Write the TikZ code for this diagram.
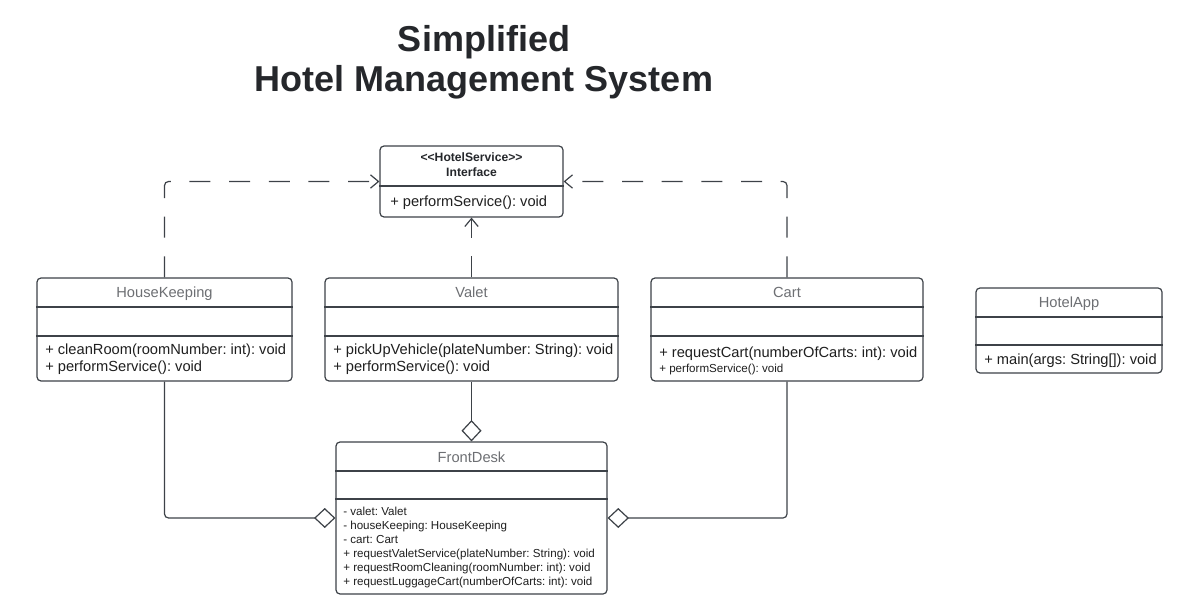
\documentclass[tikz,border=0pt]{standalone}
\usepackage{fontspec}
\setmainfont{Liberation Sans}
\usetikzlibrary{arrows.meta,fit}
\definecolor{linecol}{HTML}{3D4248}
\definecolor{titlecol}{HTML}{25272B}
\definecolor{txtcol}{HTML}{1F1F1F}
\definecolor{namecol}{HTML}{6D6F73}
\frenchspacing
\begin{document}
\begin{tikzpicture}[x=0.75pt,y=-0.75pt,
  umlbox/.style={draw=linecol,line width=0.9pt,rounded corners=3pt,inner sep=0pt,fill=white},
  divider/.style={draw=linecol,line width=0.9pt},
  cname/.style={text=namecol,font=\fontsize{11pt}{13pt}\selectfont,inner sep=0pt,text height=0.72em,text depth=0.2em,yshift=-1.3pt},
  member/.style={text=txtcol,font=\fontsize{11pt}{13pt}\selectfont,anchor=west,inner sep=0pt,text height=0.72em,text depth=0.2em,yshift=-1.3pt},
  smallmember/.style={text=txtcol,font=\fontsize{8.7pt}{10pt}\selectfont,anchor=west,inner sep=0pt,text height=0.72em,text depth=0.2em,yshift=-1pt},
  stereo/.style={text=titlecol,font=\bfseries\fontsize{9.1pt}{11pt}\selectfont,inner sep=0pt,text height=0.72em,text depth=0.2em,yshift=-1pt},
  realize/.style={draw=linecol,line width=0.9pt,dash pattern=on 15.75pt off 14pt,rounded corners=3pt,
    -{Straight Barb[length=6pt,width=10pt,line width=0.9pt]}},
  aggr/.style={draw=linecol,line width=0.9pt,rounded corners=3pt,
    {Diamond[open,length=16pt,width=15pt,line width=0.9pt,fill=white]}-}
]
\useasboundingbox (0,0) rectangle (1185,606);

% Title
\node[text=titlecol,font=\bfseries\fontsize{27pt}{30pt}\selectfont,align=center] (title) at (484,62)
  {Simplified\\Hotel Management System};

% HotelService interface
\node[umlbox,fit={(380,146) (563,217)}] (hs) {};
\draw[divider] (hs.west |- 0,186) -- (hs.east |- 0,186);
\node[stereo] (hsst) at (471.5,157) {<{}<HotelService>{}>};
\node[stereo] (hsif) at (471.5,172) {Interface};
\node[member] (hsm1) at (390,201) {+ performService(): void};

% HouseKeeping
\node[umlbox,fit={(37,278) (292,381)}] (hk) {};
\draw[divider] (hk.west |- 0,307) -- (hk.east |- 0,307);
\draw[divider] (hk.west |- 0,336) -- (hk.east |- 0,336);
\node[cname] (hkn) at (164.5,292) {HouseKeeping};
\node[member] (hkm1) at (45,349) {+ cleanRoom(roomNumber: int): void};
\node[member] (hkm2) at (45,366) {+ performService(): void};

% Valet
\node[umlbox,fit={(325,278) (618,381)}] (va) {};
\draw[divider] (va.west |- 0,307) -- (va.east |- 0,307);
\draw[divider] (va.west |- 0,336) -- (va.east |- 0,336);
\node[cname] (van) at (471.5,292) {Valet};
\node[member] (vam1) at (333,349) {+ pickUpVehicle(plateNumber: String): void};
\node[member] (vam2) at (333,366) {+ performService(): void};

% Cart
\node[umlbox,fit={(651,278) (923,381)}] (ca) {};
\draw[divider] (ca.west |- 0,307) -- (ca.east |- 0,307);
\draw[divider] (ca.west |- 0,336) -- (ca.east |- 0,336);
\node[cname] (can) at (787,292) {Cart};
\node[member] (cam1) at (659,352) {+ requestCart(numberOfCarts: int): void};
\node[smallmember] (cam2) at (659,368) {+ performService(): void};

% HotelApp
\node[umlbox,fit={(976,288) (1162,373)}] (ha) {};
\draw[divider] (ha.west |- 0,317) -- (ha.east |- 0,317);
\draw[divider] (ha.west |- 0,345) -- (ha.east |- 0,345);
\node[cname] (han) at (1069,302) {HotelApp};
\node[member] (ham1) at (984,359) {+ main(args: String[]): void};

% FrontDesk
\node[umlbox,fit={(336,442) (607,594)}] (fd) {};
\draw[divider] (fd.west |- 0,471) -- (fd.east |- 0,471);
\draw[divider] (fd.west |- 0,499) -- (fd.east |- 0,499);
\node[cname] (fdn) at (471.5,457) {FrontDesk};
\node[smallmember] (fd1) at (343,511) {- valet: Valet};
\node[smallmember] (fd2) at (343,525) {- houseKeeping: HouseKeeping};
\node[smallmember] (fd3) at (343,539) {- cart: Cart};
\node[smallmember] (fd4) at (343,552.5) {+ requestValetService(plateNumber: String): void};
\node[smallmember] (fd5) at (343,566.5) {+ requestRoomCleaning(roomNumber: int): void};
\node[smallmember] (fd6) at (343,580.5) {+ requestLuggageCart(numberOfCarts: int): void};

% Realization connectors
\draw[realize] (hk.north) |- (hs.west);
\draw[realize] (ca.north) |- (hs.east);
\draw[realize] (va.north) -- (hs.south);

% Aggregation connectors
\draw[aggr] (fd.north) -- (va.south);
\draw[aggr] (fd.west) -| (hk.south);
\draw[aggr] (fd.east) -| (ca.south);
\end{tikzpicture}
\end{document}
